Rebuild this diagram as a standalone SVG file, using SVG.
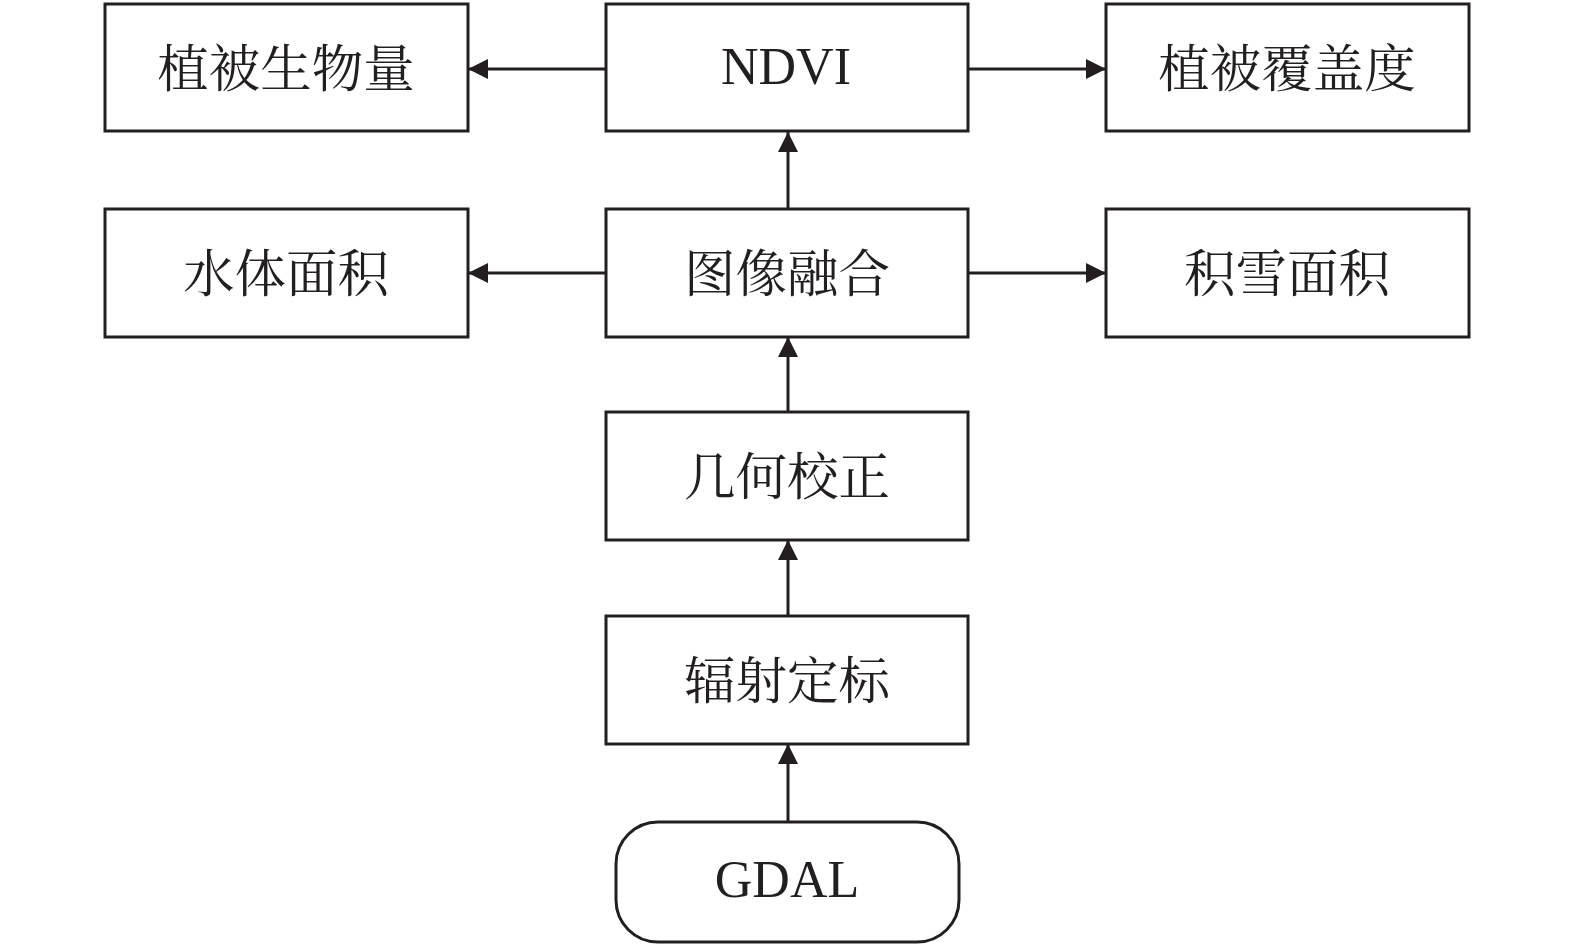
<svg xmlns="http://www.w3.org/2000/svg" width="1575" height="947" viewBox="0 0 1575 947">
<defs>
<style>
.box{fill:#fff;stroke:#231f20;stroke-width:3}
.cjk{font-family:"Liberation Serif","Noto Serif CJK SC","Noto Sans CJK SC",serif;font-size:51.5px;fill:#231f20;text-anchor:middle}
.lat{font-family:"Liberation Serif",serif;font-size:52px;fill:#231f20;text-anchor:middle}
.conn{stroke:#231f20;stroke-width:3;fill:none}
</style>
<marker id="ah" markerUnits="userSpaceOnUse" markerWidth="20" markerHeight="20" viewBox="0 0 20 20" refX="20" refY="10" orient="auto">
<path d="M0,0 L20,10 L0,20 Z" fill="#231f20"/>
</marker>
</defs>
<rect width="1575" height="947" fill="#fff"/>
<g id="connectors">
<line class="conn" x1="606" y1="69" x2="468" y2="69" marker-end="url(#ah)"/>
<line class="conn" x1="968" y1="69" x2="1106" y2="69" marker-end="url(#ah)"/>
<line class="conn" x1="788" y1="209" x2="788" y2="132" marker-end="url(#ah)"/>
<line class="conn" x1="606" y1="273" x2="468" y2="273" marker-end="url(#ah)"/>
<line class="conn" x1="968" y1="273" x2="1106" y2="273" marker-end="url(#ah)"/>
<line class="conn" x1="788" y1="412" x2="788" y2="337" marker-end="url(#ah)"/>
<line class="conn" x1="788" y1="616" x2="788" y2="540" marker-end="url(#ah)"/>
<line class="conn" x1="788" y1="822" x2="788" y2="744" marker-end="url(#ah)"/>
</g>
<g id="n_biomass"><rect class="box" x="105" y="4" width="363" height="127"/><text class="cjk" x="286" y="87">植被生物量</text></g>
<g id="n_ndvi"><rect class="box" x="606" y="4" width="362" height="127"/><text class="lat" x="786" y="84">NDVI</text></g>
<g id="n_cover"><rect class="box" x="1106" y="4" width="363" height="127"/><text class="cjk" x="1287" y="87">植被覆盖度</text></g>
<g id="n_water"><rect class="box" x="105" y="209" width="363" height="128"/><text class="cjk" x="286" y="292">水体面积</text></g>
<g id="n_fusion"><rect class="box" x="606" y="209" width="362" height="128"/><text class="cjk" x="787" y="292">图像融合</text></g>
<g id="n_snow"><rect class="box" x="1106" y="209" width="363" height="128"/><text class="cjk" x="1287" y="292">积雪面积</text></g>
<g id="n_geo"><rect class="box" x="606" y="412" width="362" height="128"/><text class="cjk" x="787" y="495">几何校正</text></g>
<g id="n_rad"><rect class="box" x="606" y="616" width="362" height="128"/><text class="cjk" x="787" y="699">辐射定标</text></g>
<g id="n_gdal"><rect class="box" x="616" y="822" width="343" height="120" rx="42" ry="42"/><text class="lat" x="787" y="897">GDAL</text></g>
</svg>
